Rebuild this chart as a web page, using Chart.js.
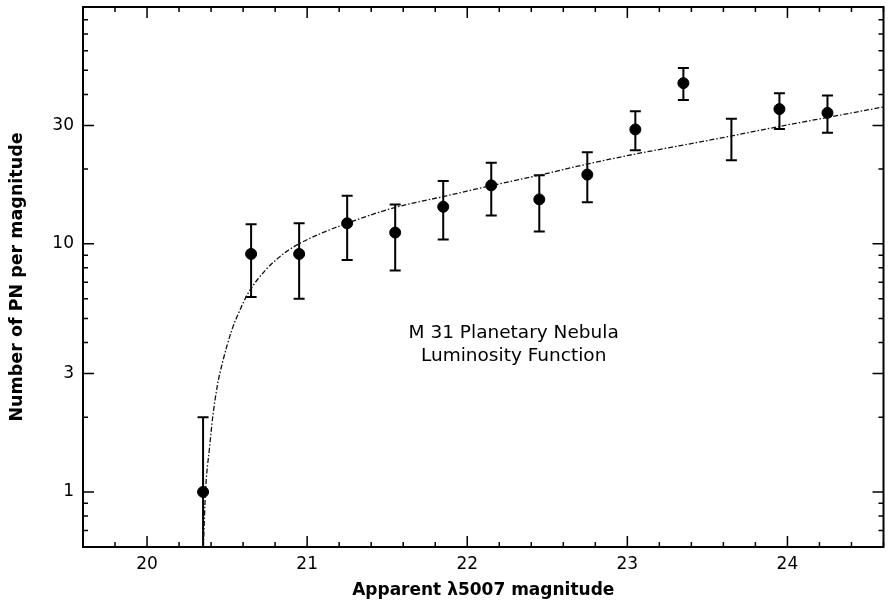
<!DOCTYPE html>
<html><head>
<meta charset="UTF-8">
<title>M 31 Planetary Nebula Luminosity Function</title>
<script src="https://cdn.jsdelivr.net/npm/chart.js"></script>
<style>
  body { margin: 0; background: #fff; }
  #wrap { width: 890px; height: 606px; }
</style>
</head>
<body>
<div id="wrap"><canvas id="pnlf"></canvas></div>
<script>
// binned PN counts, 0.3 mag bins
const mags    = [20.35, 20.65, 20.95, 21.25, 21.55, 21.85, 22.15, 22.45, 22.75, 23.05, 23.35, 23.65, 23.95, 24.25];
const counts  = [1.0, 9.1, 9.1, 12.1, 11.1, 14.1, 17.2, 15.1, 19.0, 28.9, 44.4, null, 34.9, 33.7];
const errLow  = [0, 6.1, 6.0, 8.6, 7.8, 10.4, 13.0, 11.2, 14.7, 23.8, 38.0, 21.7, 29.0, 28.0];
const errHigh = [2.0, 12.0, 12.1, 15.6, 14.4, 17.9, 21.2, 18.9, 23.4, 34.2, 51.1, 31.9, 40.4, 39.6];

// fitted luminosity function curve
const fitMag = [20.352, 20.365, 20.39, 20.41, 20.44, 20.47, 20.53, 20.58, 20.63, 20.745, 20.87, 20.95, 21.07, 21.25, 21.53, 21.87, 22.14, 22.45, 22.74, 23.05, 23.35, 23.65, 23.96, 24.25, 24.6];
const fitN   = [0.6, 1.0, 1.5, 2.0, 2.7, 3.3, 4.5, 5.4, 6.3, 7.9, 9.3, 10.0, 10.9, 12.1, 13.9, 15.6, 17.1, 18.9, 20.9, 23.0, 25.0, 27.2, 29.8, 32.3, 35.6];

// axis ticks
const xTicks = [19.6, 19.8, 20, 20.2, 20.4, 20.6, 20.8, 21, 21.2, 21.4, 21.6, 21.8, 22, 22.2, 22.4, 22.6, 22.8, 23, 23.2, 23.4, 23.6, 23.8, 24, 24.2, 24.4, 24.6];
const xLabels = [20, 21, 22, 23, 24];
const yTicks = [0.6, 0.7, 0.8, 0.9, 1, 2, 3, 4, 5, 6, 7, 8, 9, 10, 20, 30, 40, 50, 60, 70, 80, 90];
const yLabels = [1, 3, 10, 30];

Chart.defaults.font.family = "'DejaVu Sans', sans-serif";
Chart.defaults.color = '#000';

// frame, inward tick marks, error bars, annotation
const decor = {
  id: 'decor',
  beforeDatasetsDraw(chart) {
    const {ctx, chartArea: a, scales: {x, y}} = chart;
    ctx.save();
    ctx.strokeStyle = '#000';
    ctx.lineWidth = 2;
    for (let i = 0; i < mags.length; i++) {
      const px = x.getPixelForValue(mags[i]);
      let top = y.getPixelForValue(errHigh[i]);
      let bot = errLow[i] > 0 ? y.getPixelForValue(errLow[i]) : a.bottom;
      bot = Math.min(bot, a.bottom);
      ctx.beginPath();
      ctx.moveTo(px, top); ctx.lineTo(px, bot);
      ctx.moveTo(px - 5.5, top); ctx.lineTo(px + 5.5, top);
      if (errLow[i] > 0) { ctx.moveTo(px - 5.5, bot); ctx.lineTo(px + 5.5, bot); }
      ctx.stroke();
    }
    ctx.restore();
  },
  afterDraw(chart) {
    const {ctx, chartArea: a, scales: {x, y}} = chart;
    ctx.save();
    ctx.strokeStyle = '#000';
    ctx.lineWidth = 1.5;
    ctx.beginPath();
    xTicks.forEach(v => {
      const px = x.getPixelForValue(v);
      const len = xLabels.includes(v) ? 11 : 5;
      ctx.moveTo(px, a.bottom); ctx.lineTo(px, a.bottom - len);
      ctx.moveTo(px, a.top); ctx.lineTo(px, a.top + len);
    });
    yTicks.forEach(v => {
      const py = y.getPixelForValue(v);
      const len = yLabels.includes(v) ? 11 : 5;
      ctx.moveTo(a.left, py); ctx.lineTo(a.left + len, py);
      ctx.moveTo(a.right, py); ctx.lineTo(a.right - len, py);
    });
    ctx.stroke();
    ctx.lineWidth = 2;
    ctx.strokeRect(a.left, a.top, a.right - a.left, a.bottom - a.top);

    ctx.fillStyle = '#000';
    ctx.font = "18.5px 'DejaVu Sans', sans-serif";
    ctx.textAlign = 'center';
    ctx.textBaseline = 'alphabetic';
    const tx = x.getPixelForValue(22.29);
    ctx.fillText('M 31 Planetary Nebula', tx, y.getPixelForValue(4.19));
    ctx.fillText('Luminosity Function', tx, y.getPixelForValue(3.36));
    ctx.restore();
  }
};

new Chart(document.getElementById('pnlf'), {
  type: 'scatter',
  data: {
    datasets: [{
      label: 'PN counts',
      data: mags.map((m, i) => ({x: m, y: counts[i]})).filter(p => p.y !== null),
      pointRadius: 5.5,
      pointBackgroundColor: '#000',
      pointBorderColor: '#000',
      showLine: false
    }, {
      type: 'line',
      label: 'fit',
      data: fitMag.map((m, i) => ({x: m, y: fitN[i]})),
      borderColor: '#111',
      borderWidth: 1.3,
      borderDash: [5, 2, 1.5, 2],
      pointRadius: 0,
      cubicInterpolationMode: 'monotone',
      fill: false
    }]
  },
  options: {
    responsive: true,
    maintainAspectRatio: false,
    animation: false,
    layout: { padding: { top: 7, right: 3, left: 0, bottom: 0 } },
    plugins: { legend: { display: false }, tooltip: { enabled: false } },
    scales: {
      x: {
        type: 'linear',
        min: 19.6,
        max: 24.6,
        grid: { display: false, drawTicks: false },
        border: { display: false },
        afterBuildTicks: s => { s.ticks = xTicks.map(v => ({value: v})); },
        afterFit: s => { s.height = 59; s.paddingLeft = 0; s.paddingRight = 0; },
        ticks: {
          autoSkip: false,
          maxRotation: 0,
          padding: 7,
          font: { size: 17 },
          callback: v => xLabels.includes(v) ? String(v) : ''
        },
        title: {
          display: true,
          text: 'Apparent \u03bb5007 magnitude',
          font: { size: 17, weight: 'bold' },
          padding: { top: 0, bottom: 5 }
        }
      },
      y: {
        type: 'logarithmic',
        min: 0.6,
        max: 90,
        grid: { display: false, drawTicks: false },
        border: { display: false },
        afterBuildTicks: s => { s.ticks = yTicks.map(v => ({value: v})); },
        afterFit: s => { s.width = 83; s.paddingTop = 0; s.paddingBottom = 0; },
        ticks: {
          autoSkip: false,
          padding: 9,
          font: { size: 17 },
          callback: v => yLabels.includes(v) ? String(v) : ''
        },
        title: {
          display: true,
          text: 'Number of PN per magnitude',
          font: { size: 17.5, weight: 'bold' },
          padding: { top: 7, bottom: 0 }
        }
      }
    }
  },
  plugins: [decor]
});
</script>
</body></html>
